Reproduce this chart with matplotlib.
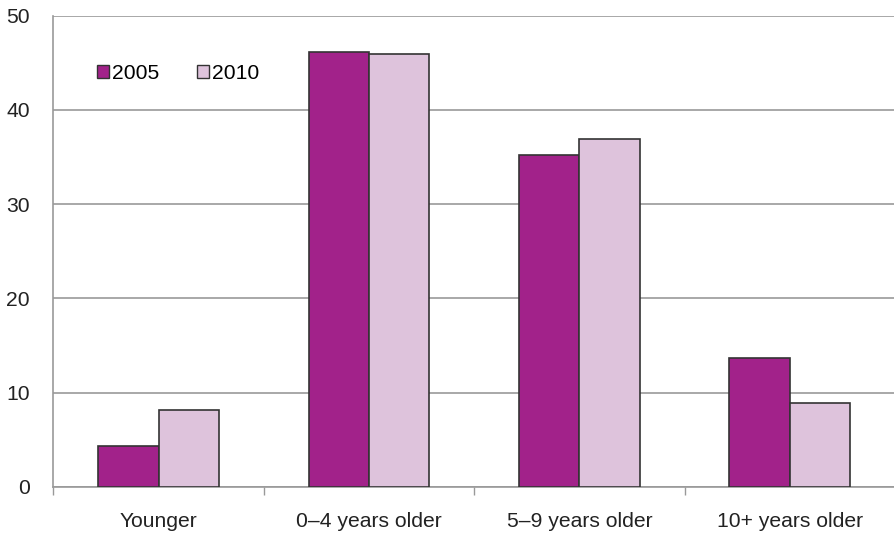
import numpy as np
import matplotlib.pyplot as plt
from matplotlib.patches import Patch

# Data
categories = ["Younger", "0\u20134 years older", "5\u20139 years older", "10+ years older"]
series_names = ["2005", "2010"]
values_2005 = [4.3, 46.1, 35.2, 13.7]
values_2010 = [8.1, 45.9, 36.9, 8.9]

col_2005 = "#a2228a"
col_2010 = "#dec3dc"
edge = "#333333"
grid_col = "#999999"
fs = 15.2

plt.rcParams['font.family'] = ['Liberation Sans', 'DejaVu Sans']

fig = plt.figure(figsize=(8.95, 5.35), dpi=100)
ax = fig.add_axes([53.5 / 895, 48.3 / 535, 1 - 53.5 / 895, (486.7 - 15.7) / 535])

x = np.arange(len(categories))
w = 0.287
ax.bar(x - w / 2, values_2005, w, color=col_2005, edgecolor=edge, linewidth=1.2, zorder=3)
ax.bar(x + w / 2, values_2010, w, color=col_2010, edgecolor=edge, linewidth=1.2, zorder=3)

ax.set_xlim(-0.5, 3.5)
ax.set_ylim(0, 50)
ax.set_yticks(np.arange(0, 51, 10))
ax.yaxis.grid(True, color=grid_col, linewidth=1.2, zorder=0)
ax.set_axisbelow(True)

ax.set_xticks(x)
ax.set_xticklabels(categories)
ax.set_xticks(np.arange(-0.5, 3.6, 1.0), minor=True)
ax.tick_params(axis='x', which='major', length=0, pad=18, labelsize=fs, colors='#222222')
ax.tick_params(axis='x', which='minor', length=6, width=1, color=grid_col)
ax.tick_params(axis='y', length=0, pad=17, labelsize=fs, colors='#222222')

for s in ['top', 'right']:
    ax.spines[s].set_visible(False)
for s in ['left', 'bottom']:
    ax.spines[s].set_color(grid_col)
    ax.spines[s].set_linewidth(1.2)

handles = [Patch(facecolor=col_2005, edgecolor=edge, label=series_names[0]),
           Patch(facecolor=col_2010, edgecolor=edge, label=series_names[1])]
ax.legend(handles=handles, loc='center left', bbox_to_anchor=(97 / 895, 1 - 73.5 / 535),
          bbox_transform=fig.transFigure, ncol=2, frameon=False, fontsize=fs,
          handlelength=0.56, handleheight=0.56, handletextpad=0.15, columnspacing=1.8,
          borderpad=0, borderaxespad=0)

fig.savefig("out.png", dpi=100)
